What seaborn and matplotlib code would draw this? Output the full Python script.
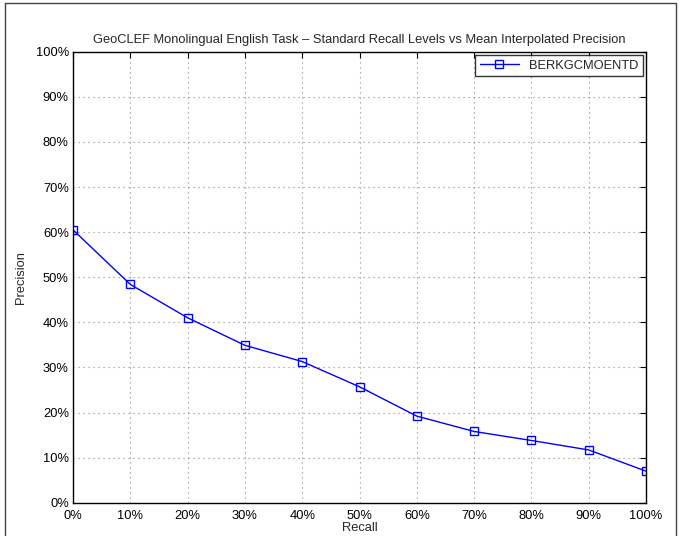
import numpy as np
import pandas as pd
import seaborn as sns
import matplotlib.pyplot as plt
from matplotlib.lines import Line2D
from matplotlib.ticker import PercentFormatter

recall = [0, 10, 20, 30, 40, 50, 60, 70, 80, 90, 100]
precision = [60.5, 48.4, 41.0, 34.9, 31.3, 25.7, 19.2, 15.8, 13.8, 11.7, 7.0]
run_name = 'BERKGCMOENTD'

sns.set_style('white')
plt.rcParams['font.family'] = ['Liberation Sans', 'DejaVu Sans']

df = pd.DataFrame({'Recall': recall, 'Precision': precision, 'run': run_name})

fig = plt.figure(figsize=(6.8, 5.36), dpi=100)
ax = fig.add_axes([0.1074, 0.0621, 0.8426, 0.8414])

sns.lineplot(data=df, x='Recall', y='Precision', hue='run', palette=['#0000ff'],
             marker='s', markersize=6, markerfacecolor='none', markeredgecolor='#0000ff',
             markeredgewidth=1.0, linewidth=1.0, ax=ax)

ax.set_xlim(0, 100)
ax.set_ylim(0, 100)
ax.set_xticks(np.arange(0, 101, 10))
ax.set_yticks(np.arange(0, 101, 10))
ax.xaxis.set_major_formatter(PercentFormatter(decimals=0))
ax.yaxis.set_major_formatter(PercentFormatter(decimals=0))
ax.tick_params(direction='in', length=4, width=0.8, top=True, right=True,
               labelsize=9.3, colors='black')
ax.tick_params(axis='x', pad=5)
ax.tick_params(axis='y', pad=3)
ax.grid(True, linestyle=(0, (1, 3.5)), color='#888888', linewidth=0.8)
for s in ax.spines.values():
    s.set_color('black')
    s.set_linewidth(1.0)

ax.set_xlabel('Recall', fontsize=9.3, labelpad=0)
ax.set_ylabel('Precision', fontsize=9.3, labelpad=6)
ax.set_title('GeoCLEF Monolingual English Task \u2013 Standard Recall Levels vs Mean Interpolated Precision',
             fontsize=9.3, pad=6)

handles = ax.get_legend().legend_handles
leg = ax.legend(handles=handles, labels=[run_name], loc='upper right', fontsize=9.3,
                frameon=True, fancybox=False, edgecolor='black', borderaxespad=0.25,
                handlelength=3.0, borderpad=0.35)
leg.get_frame().set_linewidth(1.0)

# outer frame
for xs, ys in [([5 / 680, 5 / 680], [0, 1 - 3 / 536]),
               ([5 / 680, 676 / 680], [1 - 3 / 536, 1 - 3 / 536]),
               ([676 / 680, 676 / 680], [0, 1 - 3 / 536])]:
    fig.add_artist(Line2D(xs, ys, transform=fig.transFigure, color='#444444', linewidth=1.0))

fig.savefig('out.png', dpi=100)
